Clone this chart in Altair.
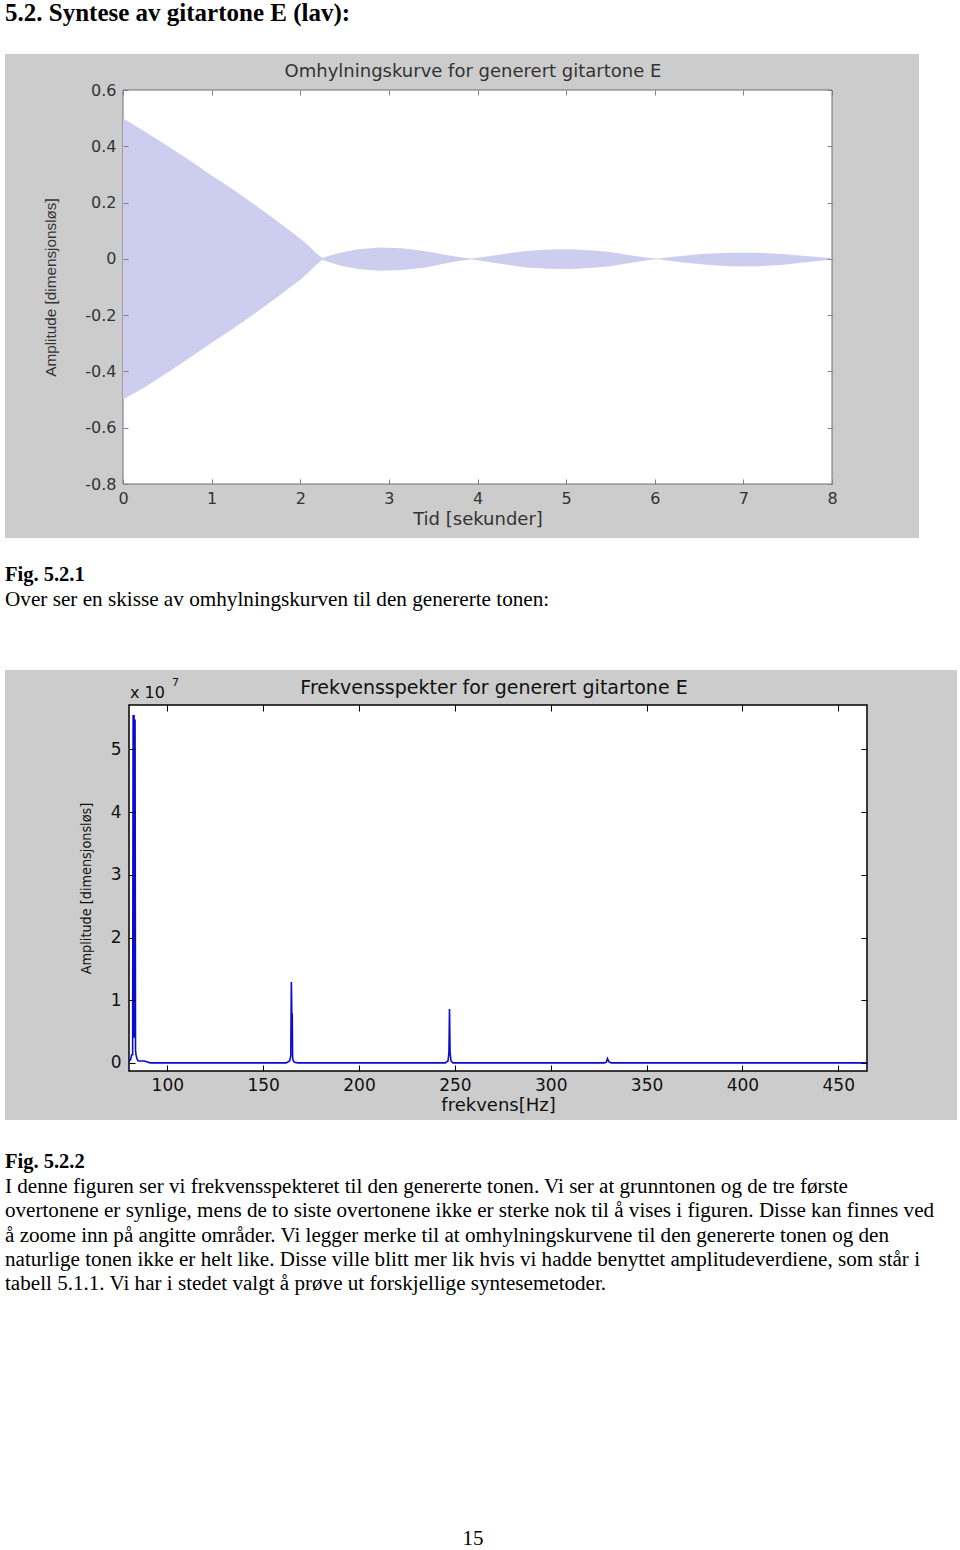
import altair as alt
import pandas as pd

# ---------------- page text ----------------
heading = "5.2. Syntese av gitartone E (lav):"
fig1_caption_title = "Fig. 5.2.1"
fig1_caption = "Over ser en skisse av omhylningskurven til den genererte tonen:"
fig2_caption_title = "Fig. 5.2.2"
paragraph = [
    "I denne figuren ser vi frekvensspekteret til den genererte tonen. Vi ser at grunntonen og de tre første",
    "overtonene er synlige, mens de to siste overtonene ikke er sterke nok til å vises i figuren. Disse kan finnes ved",
    "å zoome inn på angitte områder. Vi legger merke til at omhylningskurvene til den genererte tonen og den",
    "naturlige tonen ikke er helt like. Disse ville blitt mer lik hvis vi hadde benyttet amplitudeverdiene, som står i",
    "tabell 5.1.1. Vi har i stedet valgt å prøve ut forskjellige syntesemetoder.",
]
page_number = "15"

# ---------------- figure 1: envelope ----------------
fig1_title = "Omhylningskurve for generert gitartone E"
fig1_xlabel = "Tid [sekunder]"
fig1_ylabel = "Amplitude [dimensjonsløs]"
fig1_xticks = [0, 1, 2, 3, 4, 5, 6, 7, 8]
fig1_yticks = [-0.8, -0.6, -0.4, -0.2, 0, 0.2, 0.4, 0.6]
fig1_xlim = [0, 8]
fig1_ylim = [-0.8, 0.6]

env_t = [0.00, 0.25, 0.50, 0.75, 1.00, 1.25, 1.45, 1.65, 1.85, 2.00, 2.10, 2.18, 2.25,
         2.32, 2.45, 2.65, 2.90, 3.15, 3.40, 3.60, 3.75, 3.87, 3.93,
         4.00, 4.15, 4.35, 4.55, 4.80, 5.05, 5.30, 5.50, 5.70, 5.88, 5.98, 6.04,
         6.12, 6.30, 6.55, 6.85, 7.15, 7.45, 7.70, 7.90, 8.00]
env_up = [0.500, 0.452, 0.402, 0.350, 0.296, 0.245, 0.200, 0.155, 0.108, 0.072, 0.045, 0.020, 0.003,
          0.010, 0.022, 0.034, 0.040, 0.038, 0.028, 0.016, 0.008, 0.003, 0.001,
          0.004, 0.010, 0.020, 0.028, 0.033, 0.034, 0.030, 0.024, 0.014, 0.006, 0.002, 0.001,
          0.004, 0.010, 0.018, 0.022, 0.022, 0.017, 0.010, 0.005, 0.003]
env_lo = [-0.500, -0.455, -0.405, -0.352, -0.298, -0.247, -0.202, -0.157, -0.110, -0.074, -0.046, -0.021, -0.003,
          -0.011, -0.024, -0.036, -0.042, -0.040, -0.032, -0.018, -0.009, -0.004, -0.001,
          -0.005, -0.012, -0.022, -0.031, -0.035, -0.036, -0.032, -0.026, -0.016, -0.007, -0.002, -0.001,
          -0.005, -0.012, -0.020, -0.026, -0.027, -0.021, -0.012, -0.006, -0.003]

# ---------------- figure 2: spectrum ----------------
fig2_title = "Frekvensspekter for generert gitartone E"
fig2_xlabel = "frekvens[Hz]"
fig2_ylabel = "Amplitude [dimensjonsløs]"
fig2_exp_base = "x 10"
fig2_exp_power = "7"
fig2_xticks = [100, 150, 200, 250, 300, 350, 400, 450]
fig2_yticks = [0, 1, 2, 3, 4, 5]
fig2_xlim = [80, 465]
fig2_ylim = [-0.13, 5.71]

spec_f = [80.0, 80.9, 81.4, 81.9, 82.15, 82.4, 82.65, 82.9, 83.15, 83.4, 83.65, 84.2, 84.9, 88.0, 91.0,
          162.0, 163.8, 164.4, 164.7, 164.95, 165.15, 165.35, 165.6, 166.3, 168.0,
          245.0, 246.4, 246.9, 247.2, 247.5, 248.0, 249.0,
          328.0, 329.0, 329.6, 330.3, 331.5, 465.0]
spec_a = [0.02, 0.06, 0.13, 0.13, 5.55, 0.40, 5.55, 0.40, 5.48, 0.20, 0.13, 0.06, 0.03, 0.03, 0.0,
          0.0, 0.03, 0.11, 1.29, 0.78, 0.78, 0.10, 0.04, 0.01, 0.0,
          0.0, 0.03, 0.16, 0.86, 0.16, 0.03, 0.0,
          0.0, 0.01, 0.07, 0.02, 0.0, 0.0]

# ---------------- helpers ----------------
SERIF = "Liberation Serif, Times New Roman, serif"
SANS = "DejaVu Sans, sans-serif"
one = pd.DataFrame({"k": [0]})


def text_layer(txt, x, y, size, weight="normal", align="left", font=SERIF, color="black", lh=None):
    kw = dict(text=txt, font=font, fontSize=size, fontWeight=weight, align=align,
              baseline="middle", color=color)
    if lh:
        kw["lineHeight"] = lh
    return alt.Chart(one).mark_text(**kw).encode(x=alt.value(x), y=alt.value(y))


def label_axis(orient, offset, values, title, lfont, lsize, lcolor, tfont, tsize, tpad, lpad, lexpr=None):
    kw = dict(orient=orient, offset=offset, values=values, ticks=False, tickSize=0, domain=False,
              grid=False, labelPadding=lpad, labelFont=lfont, labelFontSize=lsize, labelColor=lcolor,
              labelFlush=False, labelOverlap=False, title=title, titleFont=tfont, titleFontSize=tsize,
              titleFontWeight="normal", titleColor=lcolor, titlePadding=tpad, zindex=1)
    if lexpr:
        kw["labelExpr"] = lexpr
    return alt.Axis(**kw)


def tick_axis(orient, offset, values, color, size):
    return alt.Axis(orient=orient, offset=offset, values=values, labels=False, domain=False,
                    ticks=True, tickSize=size, tickColor=color, tickWidth=1, grid=False,
                    title="", zindex=1)


# ---------------- figure 1 panel ----------------
W1, H1 = 914, 484
X1L, X1R, Y1T, Y1B = 118, 827, 36, 430
xs1 = alt.Scale(domain=fig1_xlim, range=[X1L, X1R], nice=False, zero=False)
ys1 = alt.Scale(domain=fig1_ylim, range=[Y1B, Y1T], nice=False, zero=False)
frame1 = pd.DataFrame({"x0": [fig1_xlim[0]], "x1": [fig1_xlim[1]],
                       "y0": [fig1_ylim[0]], "y1": [fig1_ylim[1]]})
env = pd.DataFrame({"t": env_t, "up": env_up, "lo": env_lo})
c1 = "#333333"
g1 = "#808080"

f1_box = alt.Chart(frame1).mark_rect(fill="white", stroke="#707070", strokeWidth=1).encode(
    x=alt.X("x0:Q", scale=xs1, axis=label_axis("bottom", Y1B - H1, fig1_xticks, fig1_xlabel,
                                                SANS, 16, c1, SANS, 18, 4, 6)),
    x2="x1:Q",
    y=alt.Y("y0:Q", scale=ys1, axis=label_axis("left", -X1L, fig1_yticks, fig1_ylabel,
                                                SANS, 16, c1, "Liberation Sans, Arial, sans-serif", 15.3, 26, 7,
                                                "'' + round(datum.value*10)/10")),
    y2="y1:Q",
)
f1_area = alt.Chart(env).mark_area(color="#cdcdf0").encode(
    x=alt.X("t:Q", scale=xs1, axis=tick_axis("top", -Y1B, fig1_xticks, g1, 5)),
    y=alt.Y("up:Q", scale=ys1, axis=tick_axis("right", X1L - W1, fig1_yticks, g1, 5)),
    y2="lo:Q",
)
f1_ticks = alt.Chart(frame1).mark_rect(opacity=0).encode(
    x=alt.X("x0:Q", scale=xs1, axis=tick_axis("bottom", Y1T - H1, fig1_xticks, g1, 5)),
    x2="x1:Q",
    y=alt.Y("y0:Q", scale=ys1, axis=tick_axis("left", -X1R, fig1_yticks, g1, 5)),
    y2="y1:Q",
)
f1_title = text_layer(fig1_title, 468, 18, 18, font=SANS, align="center", color=c1)

fig1 = alt.layer(f1_box, f1_area, f1_ticks, f1_title).resolve_axis(
    x="independent", y="independent"
).properties(width=W1, height=H1, view=alt.ViewBackground(fill="#cccccc", strokeWidth=0))

# ---------------- figure 2 panel ----------------
W2, H2 = 952, 450
X2L, X2R, Y2T, Y2B = 124, 862, 35, 401
xs2 = alt.Scale(domain=fig2_xlim, range=[X2L, X2R], nice=False, zero=False)
ys2 = alt.Scale(domain=fig2_ylim, range=[Y2B, Y2T], nice=False, zero=False)
frame2 = pd.DataFrame({"x0": [fig2_xlim[0]], "x1": [fig2_xlim[1]],
                       "y0": [fig2_ylim[0]], "y1": [fig2_ylim[1]]})
spec = pd.DataFrame({"f": spec_f, "a": spec_a})
c2 = "#111111"

f2_box = alt.Chart(frame2).mark_rect(fill="white", stroke="black", strokeWidth=1.5).encode(
    x=alt.X("x0:Q", scale=xs2, axis=label_axis("bottom", Y2B - H2, fig2_xticks, fig2_xlabel,
                                                SANS, 17, c2, SANS, 18, 3, 6)),
    x2="x1:Q",
    y=alt.Y("y0:Q", scale=ys2, axis=label_axis("left", -X2L, fig2_yticks, fig2_ylabel,
                                                SANS, 17, c2,
                                                "Liberation Sans Narrow, Arial Narrow, DejaVu Sans Condensed, sans-serif",
                                                14.3, 17, 8)),
    y2="y1:Q",
)
f2_line = alt.Chart(spec).mark_line(color="#0a0ad2", strokeWidth=1.6).encode(
    x=alt.X("f:Q", scale=xs2, axis=tick_axis("top", -Y2B, fig2_xticks, "black", 6)),
    y=alt.Y("a:Q", scale=ys2, axis=tick_axis("right", X2L - W2, fig2_yticks, "black", 6)),
)
f2_ticks = alt.Chart(frame2).mark_rect(opacity=0).encode(
    x=alt.X("x0:Q", scale=xs2, axis=tick_axis("bottom", Y2T - H2, fig2_xticks, "black", 6)),
    x2="x1:Q",
    y=alt.Y("y0:Q", scale=ys2, axis=tick_axis("left", -X2R, fig2_yticks, "black", 6)),
    y2="y1:Q",
)
f2_title = text_layer(fig2_title, 489, 18, 19, font=SANS, align="center", color=c2)
f2_exp = text_layer(fig2_exp_base, 125, 23, 16, font=SANS, color=c2)
f2_pow = text_layer(fig2_exp_power, 167, 13, 11, font=SANS, color=c2)

fig2 = alt.layer(f2_box, f2_line, f2_ticks, f2_title, f2_exp, f2_pow).resolve_axis(
    x="independent", y="independent"
).properties(width=W2, height=H2, view=alt.ViewBackground(fill="#cccccc", strokeWidth=0))

# ---------------- text panels ----------------
PW = 955
head = alt.layer(text_layer(heading, 0, 13, 25, weight="bold")).properties(width=PW, height=54)
cap1 = alt.layer(
    text_layer(fig1_caption_title, 0, 37, 20.5, weight="bold"),
    text_layer(fig1_caption, 0, 62, 21.2),
).properties(width=PW, height=132)
body = alt.layer(
    text_layer(fig2_caption_title, 0, 42, 20.5, weight="bold"),
    text_layer(paragraph, 0, 67, 21.1, lh=24.25),
    text_layer(page_number, 468, 419, 21, align="center"),
).properties(width=PW, height=430)

chart = alt.vconcat(head, fig1, cap1, fig2, body, spacing=0, bounds="flush").properties(
    padding={"left": 5, "top": 0, "right": 0, "bottom": 0}
).configure_view(strokeWidth=0)

chart.save("out.html", embed_options={"renderer": "svg", "actions": False})
